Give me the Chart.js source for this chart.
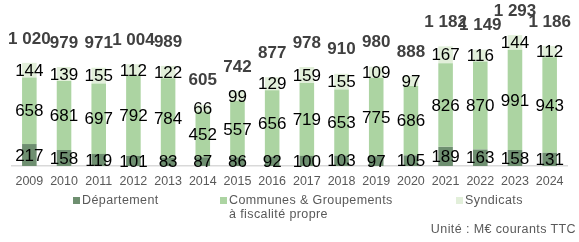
<!DOCTYPE html>
<html>
<head>
<meta charset="utf-8">
<script src="https://cdn.jsdelivr.net/npm/chart.js@4"></script>
<style>
  html, body { margin: 0; padding: 0; background: #fff; }
  #wrap { position: relative; width: 579px; height: 242px; font-family: "Liberation Sans", Arial, sans-serif; }
  canvas { position: absolute; left: 0; top: 0; }
  .lg { position: absolute; font-size: 12.5px; letter-spacing: 0.4px; color: #595959; line-height: 14px; white-space: nowrap; }
  .sw { position: absolute; width: 7px; height: 7px; }
</style>
</head>
<body>
<div id="wrap">
  <canvas id="c" width="579" height="242"></canvas>
  <div class="sw" style="left:73px;top:197px;background:#6e8f70"></div>
  <div class="lg" style="left:82px;top:193px">Département</div>
  <div class="sw" style="left:220px;top:197px;background:#acd4a2"></div>
  <div class="lg" style="left:229px;top:193px">Communes &amp; Groupements<br>à fiscalité propre</div>
  <div class="sw" style="left:456px;top:197px;background:#e2efda"></div>
  <div class="lg" style="left:465px;top:193px">Syndicats</div>
  <div class="lg" style="right:3px;top:222px">Unité : M€ courants TTC</div>
</div>
<script>
const years = ["2009","2010","2011","2012","2013","2014","2015","2016","2017","2018","2019","2020","2021","2022","2023","2024"];
const departement = [217,158,119,101,83,87,86,92,100,103,97,105,189,163,158,131];
const communes = [658,681,697,792,784,452,557,656,719,653,775,686,826,870,991,943];
const syndicats = [144,139,155,112,122,66,99,129,159,155,109,97,167,116,144,112];
const totals = [1020,979,971,1004,989,605,742,877,978,910,980,888,1182,1149,1293,1186];

function fmt(v){ return String(v).replace(/\B(?=(\d{3})+(?!\d))/g, " "); }

const labelPlugin = {
  id: 'labels',
  afterDatasetsDraw(chart) {
    const ctx = chart.ctx;
    ctx.save();
    ctx.textAlign = 'center';
    ctx.textBaseline = 'middle';
    ctx.font = '17px "Liberation Sans", Arial, sans-serif';
    ctx.fillStyle = '#000';
    chart.data.datasets.forEach((ds, i) => {
      const meta = chart.getDatasetMeta(i);
      meta.data.forEach((bar, j) => {
        const y = (bar.y + bar.base) / 2;
        ctx.fillText(ds.data[j], bar.x, y + 1);
      });
    });
    ctx.font = 'bold 17px "Liberation Sans", Arial, sans-serif';
    ctx.fillStyle = '#404040';
    const top = chart.getDatasetMeta(2);
    top.data.forEach((bar, j) => {
      ctx.fillText(fmt(totals[j]), bar.x, bar.y - 24);
    });
    ctx.restore();
  }
};

new Chart(document.getElementById('c'), {
  type: 'bar',
  data: {
    labels: years,
    datasets: [
      { label: 'Département', data: departement, backgroundColor: '#6e8f70' },
      { label: 'Communes & Groupements à fiscalité propre', data: communes, backgroundColor: '#acd4a2' },
      { label: 'Syndicats', data: syndicats, backgroundColor: '#e2efda' }
    ]
  },
  options: {
    responsive: false,
    animation: false,
    layout: { padding: { left: 12, right: 12, top: 0, bottom: 53 } },
    plugins: { legend: { display: false }, tooltip: { enabled: false } },
    datasets: { bar: { barPercentage: 0.84, categoryPercentage: 0.5 } },
    scales: {
      x: {
        stacked: true,
        afterFit(scale) { scale.height = 23; },
        grid: { display: false, drawTicks: false },
        border: { display: true, color: '#d9d9d9', width: 1.5 },
        ticks: { color: '#595959', padding: 8, font: { size: 12.5, family: '"Liberation Sans", Arial, sans-serif' }, maxRotation: 0, autoSkip: false }
      },
      y: { stacked: true, display: false, min: 0, max: 1640 }
    }
  },
  plugins: [labelPlugin]
});
</script>
</body>
</html>
